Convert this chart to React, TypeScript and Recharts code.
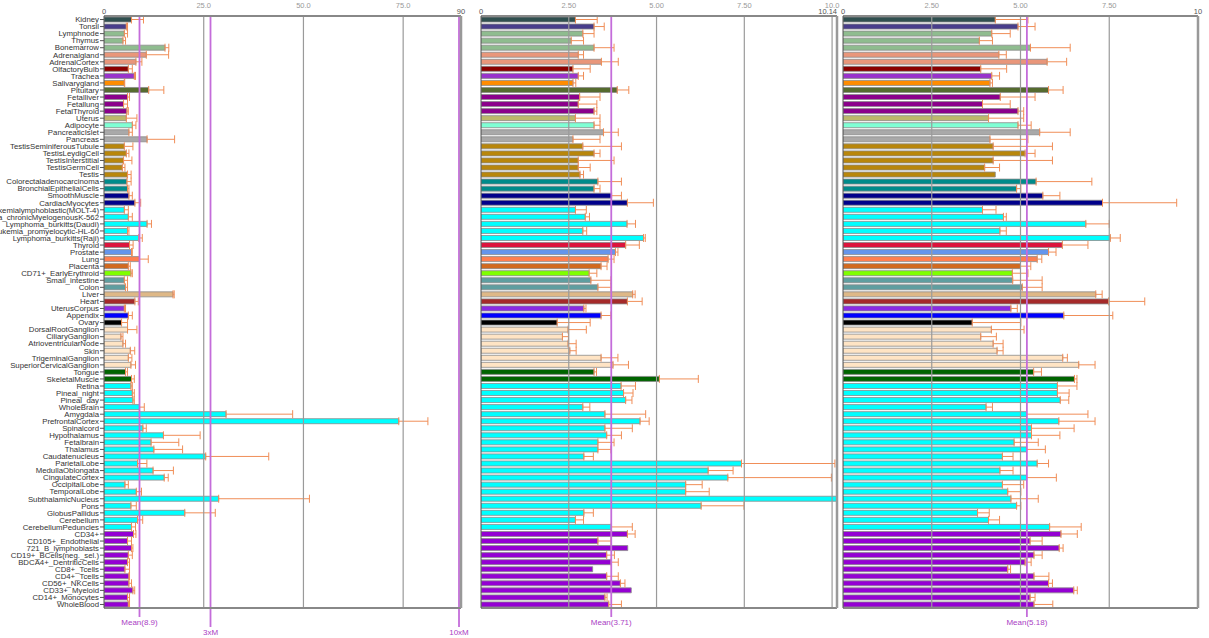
import React from "react";
import { BarChart, Bar, XAxis, YAxis, ErrorBar, ReferenceLine, Cell } from "recharts";

const tissues = [
  "Kidney", "Tonsil", "Lymphnode", "Thymus", "Bonemarrow", "Adrenalgland", "AdrenalCortex",
  "OlfactoryBulb", "Trachea", "Salivarygland", "Pituitary", "Fetalliver", "Fetallung",
  "FetalThyroid", "Uterus", "Adipocyte", "PancreaticIslet", "Pancreas",
  "TestisSeminiferousTubule", "TestisLeydigCell", "TestisInterstitial", "TestisGermCell",
  "Testis", "Colorectaladenocarcinoma", "BronchialEpithelialCells", "SmoothMuscle",
  "CardiacMyocytes", "Leukemialymphoblastic(MOLT-4)", "Leukemia_chronicMyelogenousK-562",
  "Lymphoma_burkitts(Daudi)", "Leukemia_promyelocytic-HL-60", "Lymphoma_burkitts(Raji)",
  "Thyroid", "Prostate", "Lung", "Placenta", "CD71+_EarlyErythroid", "Small_intestine",
  "Colon", "Liver", "Heart", "UterusCorpus", "Appendix", "Ovary", "DorsalRootGanglion",
  "CiliaryGanglion", "AtrioventricularNode", "Skin", "TrigeminalGanglion",
  "SuperiorCervicalGanglion", "Tongue", "SkeletalMuscle", "Retina", "Pineal_night",
  "Pineal_day", "WholeBrain", "Amygdala", "PrefrontalCortex", "Spinalcord", "Hypothalamus",
  "Fetalbrain", "Thalamus", "Caudatenucleus", "ParietalLobe", "MedullaOblongata",
  "CingulateCortex", "OccipitalLobe", "TemporalLobe", "SubthalamicNucleus", "Pons",
  "GlobusPallidus", "Cerebellum", "CerebellumPeduncles", "CD34+", "CD105+_Endothelial",
  "721_B_lymphoblasts", "CD19+_BCells(neg._sel.)", "BDCA4+_DentriticCells", "CD8+_Tcells",
  "CD4+_Tcells", "CD56+_NKCells", "CD33+_Myeloid", "CD14+_Monocytes", "WholeBlood",
];

const tissueColors = [
  "#2F4F4F", "#483D8B", "#8FBC8F", "#8FBC8F", "#8FBC8F", "#E9967A", "#E9967A",
  "#8B0000", "#9932CC", "#FF8C00", "#556B2F", "#8B008B", "#8B008B",
  "#8B008B", "#BDB76B", "#7FFFD4", "#A9A9A9", "#A9A9A9",
  "#B8860B", "#B8860B", "#B8860B", "#B8860B",
  "#B8860B", "#008B8B", "#008B8B", "#00008B",
  "#00008B", "#00FFFF", "#00FFFF",
  "#00FFFF", "#00FFFF", "#00FFFF",
  "#DC143C", "#6495ED", "#FF7F50", "#D2691E", "#7FFF00", "#5F9EA0",
  "#5F9EA0", "#DEB887", "#A52A2A", "#8A2BE2", "#0000FF", "#000000", "#FFE4C4",
  "#FFE4C4", "#FFE4C4", "#FFE4C4", "#FFE4C4",
  "#FFE4C4", "#006400", "#006400", "#00FFFF", "#00FFFF",
  "#00FFFF", "#00FFFF", "#00FFFF", "#00FFFF", "#00FFFF", "#00FFFF",
  "#00FFFF", "#00FFFF", "#00FFFF", "#00FFFF", "#00FFFF",
  "#00FFFF", "#00FFFF", "#00FFFF", "#00FFFF", "#00FFFF",
  "#00FFFF", "#00FFFF", "#00FFFF", "#9400D3", "#9400D3",
  "#9400D3", "#9400D3", "#9400D3", "#9400D3",
  "#9400D3", "#9400D3", "#9400D3", "#9400D3", "#9400D3",
];

// left panel
const leftValues = [
  6.9, 5.6, 5.1, 4.75, 15.3, 10.6, 8.0, 6.1, 7.6, 5.1, 11.2, 5.9, 4.9, 5.75, 5.6, 7.1, 6.25, 10.8,
  5.1, 5.6, 4.9, 4.6, 5.9, 5.75, 5.9, 6.25, 7.75, 5.1, 6.1, 10.8, 5.9, 8.7, 6.4, 6.9, 8.9, 6.1,
  6.75, 5.1, 5.4, 17.3, 7.75, 5.1, 6.1, 4.4, 5.9, 4.25, 4.75, 6.6, 6.1, 6.75, 5.4, 6.9, 6.75, 7.1,
  7.25, 8.9, 30.6, 73.9, 9.75, 14.9, 11.8, 12.5, 25.5, 8.4, 12.3, 15.1, 5.25, 8.1, 28.75, 6.75,
  20.25, 8.4, 6.9, 7.4, 5.9, 6.9, 6.1, 5.9, 5.25, 6.25, 6.25, 7.25, 5.9, 6.1,
];
const leftErrors = [
  3.0, 0.3, 0.8, 0.65, 0.95, 5.6, 1.5, 1.0, 0.3, 0.1, 3.8, 0.5, 1.0, 0.35, 2.65, 0.9, 0.85, 6.9,
  2.15, 0.65, 2.1, 0.65, 0.9, 1.05, 0.35, 0.85, 1.45, 1.0, 1.0, 1.1, 0.35, 0.9, 0.9, 0.2, 2.2, 0.5,
  0.35, 0.8, 0.5, 0.3, 0.85, 0.3, 1.0, 1.5, 2.35, 0.5, 0.65, 1.1, 0.9, 1.15, 0.5, 0.7, 0.35, 0.5,
  0.35, 1.2, 16.7, 7.3, 0.85, 9.2, 6.95, 7.2, 15.8, 2.35, 5.1, 1.0, 0.85, 1.3, 22.75, 1.35,
  7.65, 1.3, 1.0, 0.6, 1.0, 0.35, 1.0, 0.5, 1.15, 0.15, 0.65, 0.45, 0.5, 0.3,
];

// middle panel
const midValues = [
  2.69, 3.22, 2.9, 2.57, 3.22, 2.77, 3.43, 2.62, 2.77, 2.62, 3.88, 2.81, 2.77, 3.22, 2.69, 3.22,
  3.49, 2.62, 2.9, 3.22, 2.77, 2.77, 2.82, 3.33, 3.22, 3.72, 4.17, 2.69, 2.97, 4.16, 2.9, 4.63,
  4.12, 3.83, 3.62, 3.42, 3.08, 3.13, 3.33, 4.32, 4.17, 2.93, 3.42, 2.17, 2.48, 2.32, 2.48, 2.53,
  3.42, 3.76, 3.22, 5.08, 3.99, 4.06, 4.12, 2.9, 3.53, 4.53, 3.53, 3.58, 3.33, 3.33, 2.93, 7.42,
  6.47, 7.03, 5.83, 5.83, 10.14, 6.27, 2.93, 2.69, 3.71, 4.17, 3.33, 4.18, 3.58, 3.71, 3.18, 3.58,
  3.97, 4.28, 3.53, 3.64,
];
const midErrors = [
  0.62, 0.29, 0.32, 0.35, 0.57, 0.15, 0.48, 0.49, 0.15, 0.08, 0.33, 0.58, 0.53, 0.08, 0.7, 0.17,
  0.42, 0.77, 1.1, 0.17, 1.02, 0.34, 0.1, 0.67, 0.17, 0.28, 0.74, 0.31, 0.12, 0.24, 0.11, 0.05,
  0.39, 0.07, 0.17, 0.17, 0.22, 0.57, 0.37, 0.07, 0.42, 0.06, 0.28, 0.94, 0.52, 0.17, 0.23, 0.18,
  0.48, 0.44, 0.07, 1.11, 0.41, 0.27, 0.18, 0.2, 1.16, 0.26, 0.78, 0.42, 0.46, 0.37, 0.27, 2.66,
  0.71, 2.95, 0.47, 0.67, 0, 1.22, 0.27, 0.23, 0.6, 0.22, 0.37, 0, 0.22, 0.2, 0, 0.33,
  0.13, 0, 0.06, 0.36,
];

// right panel
const rightValues = [
  4.29, 4.93, 4.19, 3.84, 5.28, 4.39, 5.75, 3.88, 4.19, 4.14, 5.79, 4.43, 3.93, 4.93, 4.1, 4.93,
  5.54, 4.14, 4.23, 5.13, 4.23, 3.99, 4.29, 5.44, 4.89, 5.63, 7.31, 3.93, 4.52, 6.84, 4.42, 7.53,
  6.18, 5.79, 5.47, 5.0, 4.77, 4.78, 5.05, 7.12, 7.48, 4.73, 6.22, 3.64, 4.18, 3.88, 4.23, 4.34,
  6.19, 6.64, 5.37, 6.52, 6.04, 6.04, 6.12, 4.03, 5.17, 6.08, 5.31, 5.31, 4.82, 5.17, 4.49, 5.47,
  4.42, 5.17, 4.49, 4.64, 4.73, 4.89, 3.79, 4.1, 5.82, 6.14, 5.27, 6.09, 5.38, 5.13, 4.64, 5.38,
  5.79, 6.5, 5.27, 5.38,
];
const rightErrors = [
  0.92, 0.48, 0.52, 0.37, 1.12, 0.21, 0.55, 0.73, 0.22, 0.07, 0.41, 0.98, 0.78, 0.16, 0.99, 0.37,
  0.86, 1.07, 1.67, 0.28, 1.67, 0.42, 0, 1.57, 0.12, 0.48, 2.09, 0.38, 0.08, 0.66, 0.18, 0.28,
  0.72, 0.21, 0.13, 0.29, 0.44, 0.83, 0.56, 0.18, 1.02, 0.18, 1.38, 1.37, 0.92, 0.44, 0.28, 0.17,
  0.13, 0.46, 0.22, 0.07, 0.55, 0.33, 0.24, 0.18, 1.73, 1.02, 1.2, 0.8, 0.68, 0.53, 0.3, 0.32,
  0.37, 0.84, 0.6, 0.37, 0.77, 0.12, 0.33, 0.31, 0.89, 0.46, 0.34, 0.11, 0.23, 0.17, 0.08, 0.42,
  0.11, 0.1, 0.14, 0.53,
];

const toErr = (e: number) => (e > 0 ? [0, e] : null);

const rows = tissues.map((name, i) => ({
  name,
  color: tissueColors[i],
  left: leftValues[i],
  leftErr: toErr(leftErrors[i]),
  mid: midValues[i],
  midErr: toErr(midErrors[i]),
  right: rightValues[i],
  rightErr: toErr(rightErrors[i]),
}));

const FONT = "'Liberation Sans', Arial, sans-serif";
const PURPLE = "#C46CDA";
const PURPLE_TEXT = "#AA40C4";

const meanShape = (label: string, drop: number) => (props: any) => {
  const { x1, y1, y2 } = props;
  const top = Math.min(y1, y2);
  const bottom = Math.max(y1, y2) + drop;
  return (
    <g>
      <line x1={x1} x2={x1} y1={top} y2={bottom} stroke={PURPLE} strokeWidth={1.8} />
      <text x={x1} y={bottom + 8} textAnchor="middle" fontSize={8} fill={PURPLE_TEXT} fontFamily={FONT}>
        {label}
      </text>
    </g>
  );
};

function TopTick(props: any) {
  const { x, payload, labels } = props;
  const spec = labels.find((l: any) => l.v === payload.value);
  if (!spec) return null;
  return (
    <text
      x={x}
      y={spec.low ? 14 : 8}
      textAnchor={spec.anchor || "middle"}
      fontSize={7.5}
      fill={spec.low ? "#555" : "#999"}
      fontFamily={FONT}
    >
      {spec.text}
    </text>
  );
}

interface PanelProps {
  left: number;
  width: number;
  yAxisWidth: number;
  marginLeft: number;
  marginRight: number;
  valueKey: string;
  errKey: string;
  domainMax: number;
  labels: Array<{ v: number; text: string; low?: boolean; anchor?: string }>;
  grid: number[];
  means: Array<{ x: number; label: string; drop: number }>;
  showNames: boolean;
}

function Panel(p: PanelProps) {
  const ticks = p.labels.map((l) => l.v);
  return (
    <div style={{ position: "absolute", left: p.left, top: 0 }}>
      <BarChart
        width={p.width}
        height={638}
        data={rows}
        layout="vertical"
        barSize={5}
        margin={{ top: 0, right: p.marginRight, bottom: 29, left: p.marginLeft }}
      >
        <XAxis
          type="number"
          orientation="top"
          domain={[0, p.domainMax]}
          ticks={ticks}
          interval={0}
          allowDataOverflow
          height={16}
          tickLine={false}
          axisLine={{ stroke: "#888", strokeWidth: 2 }}
          tick={(t: any) => <TopTick {...t} labels={p.labels} />}
        />
        <XAxis
          xAxisId="bottom"
          type="number"
          orientation="bottom"
          domain={[0, p.domainMax]}
          allowDataOverflow
          height={1}
          tick={false}
          tickLine={false}
          axisLine={{ stroke: "#888", strokeWidth: 2 }}
        />
        <YAxis
          type="category"
          dataKey="name"
          width={p.yAxisWidth}
          interval={0}
          tickSize={p.showNames ? 4 : 3}
          tickMargin={1}
          axisLine={{ stroke: "#555" }}
          tickLine={{ stroke: "#555" }}
          tick={p.showNames ? { fontSize: 7.8, fill: "#333", fontFamily: FONT } : false}
        />
        <YAxis
          yAxisId="right"
          type="category"
          dataKey="name"
          orientation="right"
          width={1}
          tick={false}
          tickLine={false}
          axisLine={{ stroke: "#999", strokeWidth: 2.5 }}
        />
        <Bar dataKey={p.valueKey} stroke="#8a8a8a" strokeWidth={0.8} isAnimationActive={false}>
          {rows.map((r, i) => (
            <Cell key={`c-${i}`} fill={r.color} />
          ))}
          <ErrorBar dataKey={p.errKey} direction="x" width={4} stroke="#F08E58" strokeWidth={1} />
        </Bar>
        {p.grid.map((g) => (
          <ReferenceLine key={`g-${g}`} x={g} stroke="#9a9a9a" strokeWidth={1.2} />
        ))}
        {p.means.map((m) => (
          <ReferenceLine key={`m-${m.label}`} x={m.x} shape={meanShape(m.label, m.drop)} />
        ))}
      </BarChart>
    </div>
  );
}

export default function App() {
  return (
    <div style={{ position: "absolute", left: 0, top: 0, width: 1209, height: 638, background: "#fff" }}>
      <Panel
        left={0}
        width={470}
        yAxisWidth={104}
        marginLeft={0}
        marginRight={8}
        valueKey="left"
        errKey="leftErr"
        domainMax={89.5}
        labels={[
          { v: 0, text: "0", low: true },
          { v: 25, text: "25.0" },
          { v: 50, text: "50.0" },
          { v: 75, text: "75.0" },
          { v: 89.5, text: "90", low: true },
        ]}
        grid={[25, 50, 75]}
        means={[
          { x: 8.9, label: "Mean(8.9)", drop: 9 },
          { x: 26.7, label: "3xM", drop: 19 },
          { x: 89, label: "10xM", drop: 19 },
        ]}
        showNames
      />
      <Panel
        left={470}
        width={370}
        yAxisWidth={6}
        marginLeft={5}
        marginRight={2}
        valueKey="mid"
        errKey="midErr"
        domainMax={10.14}
        labels={[
          { v: 0, text: "0", low: true },
          { v: 2.5, text: "2.50" },
          { v: 5, text: "5.00" },
          { v: 7.5, text: "7.50" },
          { v: 10, text: "10.0" },
          { v: 10.14, text: "10.14", low: true, anchor: "end" },
        ]}
        grid={[2.5, 5, 7.5, 10]}
        means={[{ x: 3.71, label: "Mean(3.71)", drop: 9 }]}
        showNames={false}
      />
      <Panel
        left={840}
        width={369}
        yAxisWidth={3}
        marginLeft={0}
        marginRight={10}
        valueKey="right"
        errKey="rightErr"
        domainMax={10}
        labels={[
          { v: 0, text: "0", low: true },
          { v: 2.5, text: "2.50" },
          { v: 5, text: "5.00" },
          { v: 7.5, text: "7.50" },
          { v: 10, text: "10", low: true },
        ]}
        grid={[2.5, 5, 7.5]}
        means={[{ x: 5.18, label: "Mean(5.18)", drop: 9 }]}
        showNames={false}
      />
    </div>
  );
}
